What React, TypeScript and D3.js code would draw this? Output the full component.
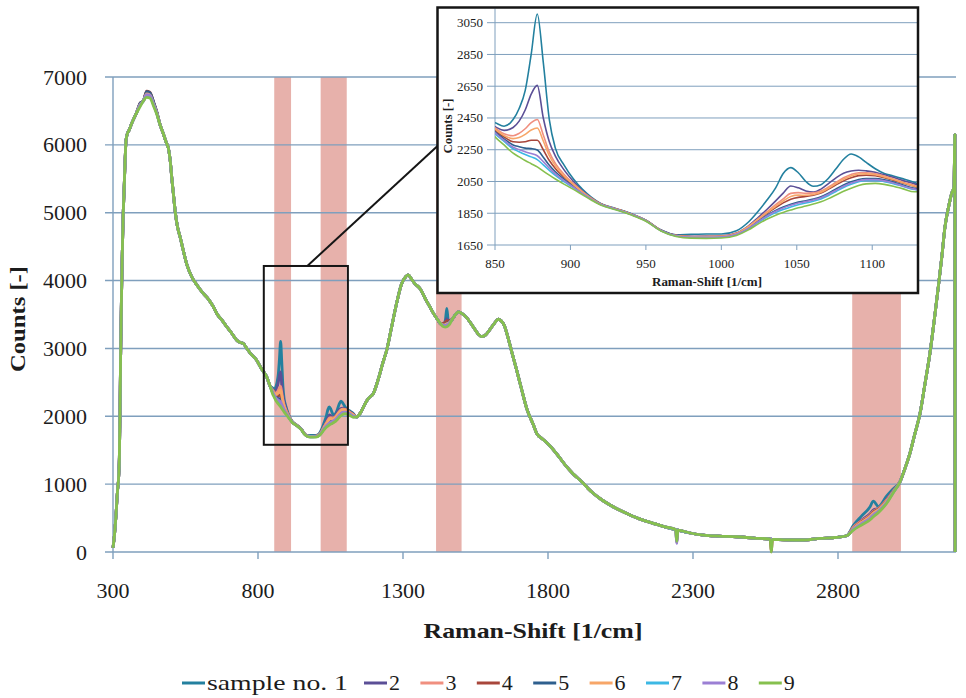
import React from 'react';
import * as d3 from 'd3';

// ---------- DATA ----------
// Common spectrum grid (Raman shift, 1/cm) and the lowest / shared spectrum (counts)
const shift = [
  300, 305, 310, 315, 320, 322, 324, 326, 329, 332, 335, 338, 342, 345, 350, 356, 363, 370, 380, 393,
  405, 416, 427, 440, 451, 462, 473, 480, 485, 491, 497, 503, 508, 515, 522, 531, 542, 555, 571, 590,
  611, 630, 646, 660, 675, 692, 710, 726, 737, 749, 760, 775, 795, 812, 830, 842,
  850, 856, 862, 866, 870, 874, 878, 882, 886, 890, 896, 902, 908, 914, 920,
  930, 940, 950, 960, 970, 980, 990, 1000, 1010,
  1018, 1024, 1030, 1036, 1041, 1046, 1051, 1056, 1061, 1066, 1071, 1076, 1081, 1086, 1091, 1096, 1102, 1108, 1114, 1120, 1128,
  1140, 1152, 1165, 1180, 1198, 1215, 1230, 1244, 1260, 1278, 1295, 1310, 1318, 1328, 1340, 1359, 1376, 1393, 1405, 1420,
  1430, 1440, 1446, 1451, 1456, 1462, 1470, 1482, 1491, 1505, 1520, 1545, 1560, 1571, 1585, 1600, 1615, 1629, 1640, 1650,
  1658, 1675, 1692, 1710, 1727, 1749, 1761, 1780, 1796, 1818, 1840, 1864, 1887, 1910, 1933, 1956, 1985, 2014, 2050, 2083,
  2120, 2163, 2200, 2240, 2244, 2248, 2290, 2336, 2390, 2451, 2510, 2566, 2570, 2574, 2620, 2680, 2738, 2795, 2830, 2853,
  2880, 2910, 2922, 2939, 2968, 2990, 3014, 3030, 3048, 3065, 3083, 3100, 3117, 3132, 3146, 3158, 3169, 3182, 3192, 3200,
  3203, 3204,
];
const baseCounts = [
  60, 250, 520, 870, 1150, 1400, 2000, 2800, 3700, 4400, 4950, 5300, 5800, 6070, 6170, 6220, 6300, 6370, 6460, 6560,
  6650, 6700, 6690, 6570, 6450, 6300, 6170, 6080, 6020, 5950, 5780, 5500, 5290, 5000, 4800, 4650, 4450, 4230, 4060, 3930,
  3810, 3720, 3615, 3500, 3420, 3320, 3220, 3124, 3090, 3075, 3010, 2920, 2830, 2700, 2580, 2440,
  2332, 2280, 2228, 2205, 2182, 2162, 2142, 2115, 2090, 2066, 2032, 2000, 1966, 1932, 1902,
  1872, 1840, 1800, 1738, 1704, 1693, 1692, 1694, 1710,
  1745, 1780, 1812, 1838, 1855, 1870, 1884, 1895, 1908, 1922, 1942, 1965, 1988, 2008, 2025, 2035, 2038, 2032, 2020, 2005, 1985,
  1990, 2043, 2150, 2260, 2338, 2550, 2780, 2977, 3300, 3665, 3950, 4060, 4085, 4030, 3960, 3880, 3740, 3610, 3517, 3420,
  3360, 3320, 3315, 3320, 3335, 3365, 3430, 3505, 3540, 3510, 3450, 3300, 3210, 3175, 3200, 3280, 3370, 3430, 3400, 3330,
  3223, 2950, 2680, 2380, 2110, 1880, 1749, 1670, 1610, 1510, 1390, 1257, 1150, 1061, 960, 865, 770, 693, 610, 545,
  480, 423, 375, 330, 326, 322, 280, 250, 235, 225, 205, 190, 188, 187, 180, 177, 200, 215, 240, 324,
  395, 472, 520, 580, 718, 870, 1036, 1220, 1454, 1740, 2044, 2480, 2928, 3420, 3910, 4350, 4794, 5100, 5286, 5380,
  6150, 0,
];

// Shifts at which the samples differ from the shared spectrum
const deltaShift = [
  393, 416, 427, 440, 451,
  850, 856, 862, 866, 870, 874, 878, 882, 886, 890, 896, 902, 908, 914, 920,
  930, 940, 950, 960, 970, 980, 990, 1000, 1010,
  1018, 1024, 1030, 1036, 1041, 1046, 1051, 1056, 1061, 1066, 1071, 1076, 1081, 1086, 1091, 1096, 1102, 1108, 1114, 1120, 1128,
  1440, 1446, 1451, 1456, 1462,
  2244, 2570,
  2853, 2880, 2910, 2922, 2939, 2968, 2990,
];
const delta1 = [
  40, 70, 70, 50, 30,
  88, 118, 212, 305, 440, 690, 963, 685, 350, 194, 118, 65, 34, 18, 10,
  8, 8, 6, 6, 10, 24, 27, 25, 30,
  50, 78, 118, 172, 245, 267, 221, 155, 112, 108, 128, 165, 202, 215, 180, 135, 92, 68, 65, 63, 58,
  40, 100, 270, 90, 40,
  0, 0,
  70, 130, 190, 230, 90, 110, 60,
];
const delta2 = [
  35, 60, 60, 40, 25,
  63, 92, 162, 225, 318, 438, 513, 335, 210, 144, 88, 50, 24, 13, 8,
  7, 7, 6, 6, 8, 12, 14, 14, 16,
  26, 40, 60, 90, 122, 152, 126, 95, 75, 80, 95, 108, 114, 108, 96, 82, 70, 60, 56, 52, 50,
  30, 60, 120, 60, 30,
  -190, 0,
  40, 70, 90, 100, 60, 60, 30,
];
const delta3 = [
  45, 80, 75, 50, 30,
  55, 70, 110, 148, 200, 258, 298, 228, 145, 98, 60, 36, 20, 11, 7,
  6, 5, 5, 4, 6, 10, 12, 12, 14,
  22, 32, 46, 66, 86, 105, 96, 80, 70, 68, 73, 80, 85, 86, 80, 70, 60, 52, 46, 42, 40,
  40, 60, 80, 60, 40,
  0, 0,
  40, 60, 70, 80, 60, 50, 25,
];
const delta4 = [
  50, 90, 85, 60, 35,
  40, 50, 72, 92, 118, 148, 168, 135, 92, 66, 42, 26, 15, 9, 6,
  5, 5, 4, 4, 5, 8, 10, 10, 12,
  18, 26, 36, 48, 60, 68, 66, 60, 55, 55, 60, 64, 66, 66, 62, 55, 48, 42, 38, 35, 34,
  50, 70, 90, 70, 50,
  0, -185,
  30, 50, 60, 70, 50, 40, 20,
];
const delta5 = [
  50, 85, 80, 60, 35,
  30, 38, 52, 64, 78, 95, 106, 88, 62, 45, 30, 18, 10, 6, 4,
  3, 3, 3, 3, 4, 6, 7, 7, 8,
  12, 18, 24, 30, 34, 36, 36, 34, 32, 32, 34, 38, 40, 40, 38, 34, 30, 28, 26, 24, 22,
  30, 40, 50, 40, 30,
  0, 0,
  20, 35, 45, 50, 40, 30, 15,
];
const delta6 = [
  30, 50, 45, 30, 20,
  48, 60, 92, 122, 165, 212, 245, 190, 122, 82, 50, 30, 17, 10, 6,
  5, 5, 4, 4, 5, 9, 11, 11, 13,
  20, 29, 40, 56, 72, 86, 80, 68, 60, 60, 65, 72, 76, 76, 72, 63, 54, 47, 42, 38, 36,
  25, 35, 45, 35, 25,
  0, 0,
  25, 40, 50, 55, 40, 35, 15,
];
const delta7 = [
  20, 30, 30, 20, 12,
  20, 22, 28, 32, 38, 43, 46, 40, 30, 22, 15, 10, 6, 4, 3,
  2, 2, 2, 2, 3, 4, 5, 5, 5,
  7, 10, 13, 16, 18, 20, 20, 19, 18, 18, 20, 22, 24, 24, 23, 21, 19, 17, 16, 15, 14,
  15, 20, 25, 20, 15,
  0, 0,
  10, 15, 20, 20, 15, 10, 5,
];
const delta8 = [
  25, 40, 40, 25, 15,
  25, 30, 38, 46, 55, 64, 70, 60, 44, 32, 22, 14, 8, 5, 3,
  3, 3, 2, 2, 3, 5, 6, 6, 7,
  10, 14, 19, 24, 28, 30, 30, 28, 26, 26, 28, 30, 32, 32, 30, 27, 24, 22, 20, 18, 17,
  20, 25, 30, 25, 20,
  -200, 0,
  15, 20, 25, 30, 20, 15, 8,
];
const delta9 = [
  0, 0, 0, 0, 0,
  0, 0, 0, 0, 0, 0, 0, 0, 0, 0, 0, 0, 0, 0, 0,
  0, 0, 0, 0, 0, 0, 0, 0, 0,
  0, 0, 0, 0, 0, 0, 0, 0, 0, 0, 0, 0, 0, 0, 0, 0, 0, 0, 0, 0, 0,
  0, 0, 0, 0, 0,
  -170, -188,
  0, 0, 0, 0, 0, 0, 0,
];

const sampleLabels = ['sample no. 1', '2', '3', '4', '5', '6', '7', '8', '9'];
const sampleColors = ['#23809f', '#5b4f96', '#f08f7f', '#a8463b', '#2e5f8e', '#f7a668', '#3cb8e4', '#9b7fd4', '#86c04e'];
const sampleDeltas = [delta1, delta2, delta3, delta4, delta5, delta6, delta7, delta8, delta9];

const mainXTicks = [300, 800, 1300, 1800, 2300, 2800];
const mainYTicks = [0, 1000, 2000, 3000, 4000, 5000, 6000, 7000];
const insetXTicks = [850, 900, 950, 1000, 1050, 1100];
const insetYTicks = [1650, 1850, 2050, 2250, 2450, 2650, 2850, 3050];
const bandStart = [856, 1016, 1414, 2849];
const bandEnd = [914, 1106, 1502, 3017];
const zoomShift = [820, 1110];
const zoomCounts = [1580, 4215];

// ---------- CHART ----------
const FONT = "'Liberation Serif', 'DejaVu Serif', serif";
const GRID = '#7f9fbd';
const TXT = '#1c1c1c';

export default function App() {
  const x = d3.scaleLinear().domain([300, 3200]).range([113, 954]);
  const y = d3.scaleLinear().domain([0, 7000]).range([552, 77]);
  const ix = d3.scaleLinear().domain([850, 1130]).range([495, 917.5]);
  const iy = d3.scaleLinear().domain([1650, 3050]).range([245, 22.7]);

  const idx = new Map<number, number>(deltaShift.map((s, i) => [s, i] as [number, number]));
  const series = sampleDeltas.map((d) =>
    shift.map((s, i) => [s, baseCounts[i] + (idx.has(s) ? d[idx.get(s) as number] : 0)] as [number, number])
  );

  const mainLine = d3
    .line<[number, number]>()
    .x((d) => x(d[0]))
    .y((d) => y(d[1]))
    .curve(d3.curveMonotoneX);
  const insetLine = d3
    .line<[number, number]>()
    .x((d) => ix(d[0]))
    .y((d) => iy(d[1]))
    .curve(d3.curveMonotoneX);

  const insetSeries = series.map((s) => s.filter((p) => p[0] >= 842 && p[0] <= 1140));

  const zx0 = x(zoomShift[0]);
  const zx1 = x(zoomShift[1]);
  const zy0 = y(zoomCounts[1]);
  const zy1 = y(zoomCounts[0]);

  const inL = 437.5, inT = 7.5, inR = 918, inB = 293;

  return (
    <svg width={966} height={698} style={{ position: 'absolute', left: 0, top: 0, background: '#fff' }}>
      <rect x={0} y={0} width={966} height={698} fill="#fff" />
      {/* highlight bands */}
      {bandStart.map((b, i) => (
        <rect key={'b' + i} x={x(b)} y={y(7000)} width={x(bandEnd[i]) - x(b)} height={y(0) - y(7000)} fill="#e7b1ab" />
      ))}
      {/* gridlines */}
      {mainYTicks.map((t) => (
        <line key={'g' + t} x1={105} x2={956} y1={y(t)} y2={y(t)} stroke={GRID} strokeWidth={1.4} />
      ))}
      <line x1={x(300)} x2={x(300)} y1={y(7000)} y2={y(0)} stroke={GRID} strokeWidth={1.4} />
      {mainXTicks.map((t) => (
        <line key={'xt' + t} x1={x(t)} x2={x(t)} y1={y(0)} y2={y(0) + 7} stroke={GRID} strokeWidth={1.4} />
      ))}
      {/* y tick labels */}
      {mainYTicks.map((t) => (
        <text key={'yl' + t} x={87} y={y(t) + 7.5} textAnchor="end" style={{ fontFamily: FONT }} fontSize={22} fill={TXT}>
          {t}
        </text>
      ))}
      {mainXTicks.map((t) => (
        <text key={'xl' + t} x={x(t)} y={598} textAnchor="middle" style={{ fontFamily: FONT }} fontSize={22} fill={TXT}>
          {t}
        </text>
      ))}
      <text x={533} y={638} textAnchor="middle" style={{ fontFamily: FONT }} fontSize={22} fontWeight="bold" fill={TXT}
        textLength={219} lengthAdjust="spacingAndGlyphs">
        Raman-Shift [1/cm]
      </text>
      <text transform="translate(25,319) rotate(-90)" textAnchor="middle" style={{ fontFamily: FONT }} fontSize={22}
        fontWeight="bold" fill={TXT} textLength={106} lengthAdjust="spacingAndGlyphs">
        Counts [-]
      </text>

      {/* main spectra */}
      {series.map((s, i) => (
        <path key={'m' + i} d={mainLine(s) || ''} fill="none" stroke={sampleColors[i]} strokeWidth={2.8}
          strokeLinejoin="round" />
      ))}

      {/* zoom box and connector */}
      <rect x={zx0} y={zy0} width={zx1 - zx0} height={zy1 - zy0} fill="none" stroke="#151515" strokeWidth={2} />
      <line x1={x(970)} y1={zy0} x2={inL} y2={146} stroke="#151515" strokeWidth={2} />

      {/* inset */}
      <defs>
        <clipPath id="insetClip">
          <rect x={495} y={8.5} width={917.5 - 495} height={245 - 8.5} />
        </clipPath>
      </defs>
      <rect x={inL} y={inT} width={inR - inL} height={inB - inT} fill="#fff" />
      {insetYTicks.map((t) => (
        <line key={'ig' + t} x1={487} x2={917.5} y1={iy(t)} y2={iy(t)} stroke={GRID} strokeWidth={1} />
      ))}
      <line x1={495} x2={495} y1={8.5} y2={245} stroke={GRID} strokeWidth={1} />
      {insetXTicks.map((t) => (
        <line key={'ixt' + t} x1={ix(t)} x2={ix(t)} y1={245} y2={250} stroke={GRID} strokeWidth={1} />
      ))}
      {insetYTicks.map((t) => (
        <text key={'iyl' + t} x={483} y={iy(t) + 4.5} textAnchor="end" style={{ fontFamily: FONT }} fontSize={13} fill={TXT}>
          {t}
        </text>
      ))}
      {insetXTicks.map((t) => (
        <text key={'ixl' + t} x={ix(t)} y={268} textAnchor="middle" style={{ fontFamily: FONT }} fontSize={13} fill={TXT}>
          {t}
        </text>
      ))}
      <text x={707} y={286} textAnchor="middle" style={{ fontFamily: FONT }} fontSize={12} fontWeight="bold" fill={TXT}
        textLength={110} lengthAdjust="spacingAndGlyphs">
        Raman-Shift [1/cm]
      </text>
      <text transform="translate(452,126) rotate(-90)" textAnchor="middle" style={{ fontFamily: FONT }} fontSize={12}
        fontWeight="bold" fill={TXT} textLength={55} lengthAdjust="spacingAndGlyphs">
        Counts [-]
      </text>
      <g clipPath="url(#insetClip)">
        {insetSeries.map((s, i) => (
          <path key={'is' + i} d={insetLine(s) || ''} fill="none" stroke={sampleColors[i]} strokeWidth={1.6}
            strokeLinejoin="round" />
        ))}
      </g>
      <rect x={inL} y={inT} width={inR - inL} height={inB - inT} fill="none" stroke="#151515" strokeWidth={2.5} />

      {/* legend */}
      {sampleLabels.map((lab, i) => {
        const lx = i === 0 ? 182 : 364 + (i - 1) * 56.4;
        return (
          <g key={'lg' + i}>
            <line x1={lx} x2={lx + 23} y1={683} y2={683} stroke={sampleColors[i]} strokeWidth={3} />
            {i === 0 ? (
              <text x={lx + 25} y={690} style={{ fontFamily: FONT }} fontSize={22} fill={TXT} textLength={141}
                lengthAdjust="spacingAndGlyphs">
                {lab}
              </text>
            ) : (
              <text x={lx + 25} y={690} style={{ fontFamily: FONT }} fontSize={22} fill={TXT}>
                {lab}
              </text>
            )}
          </g>
        );
      })}
    </svg>
  );
}
